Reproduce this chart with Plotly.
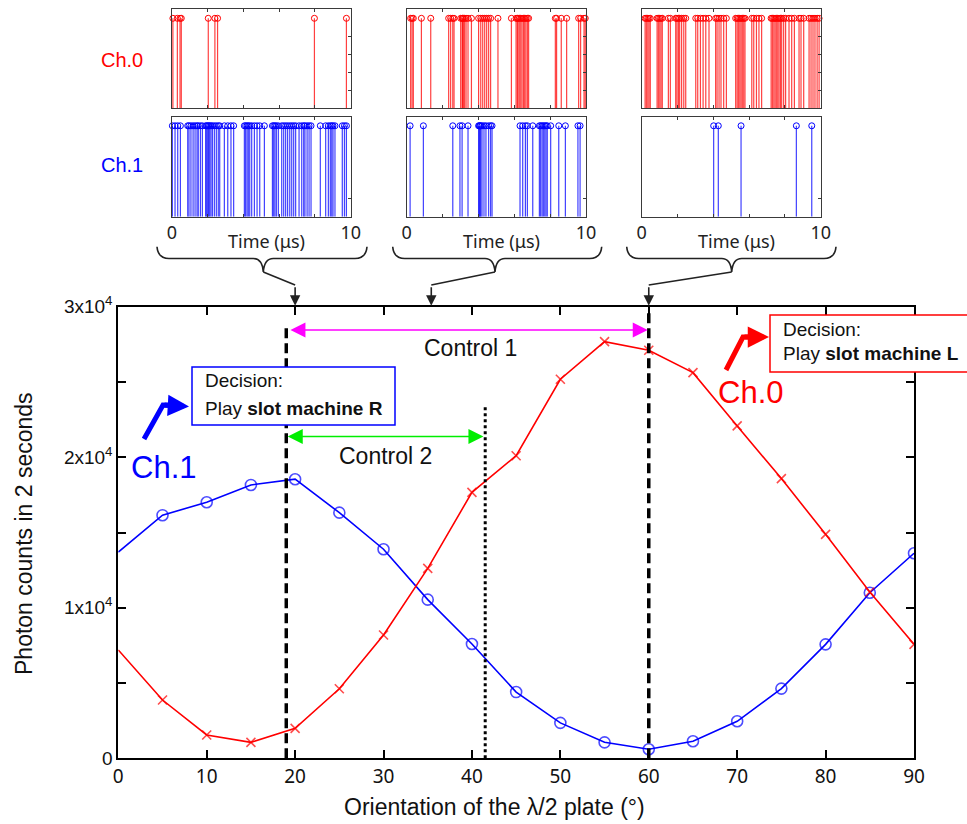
import plotly.graph_objects as go

W, H = 967, 824

# ---------------- data ----------------
angles = [0, 5, 10, 15, 20, 25, 30, 35, 40, 45, 50, 55, 60, 65, 70, 75, 80, 85, 90]
ch1_counts = [13700, 16150, 17010, 18160, 18540, 16320, 13890, 10540, 7590, 4400,
              2350, 1060, 600, 1130, 2460, 4630, 7570, 11000, 13620]
ch0_counts = [7200, 3870, 1550, 1060, 1990, 4620, 8190, 12620, 17670, 20100,
              25180, 27680, 27110, 25620, 22080, 18580, 14880, 11050, 7570]

x_tick_vals = [0, 10, 20, 30, 40, 50, 60, 70, 80, 90]
x_tick_text = ["0", "10", "20", "30", "40", "50", "60", "70", "80", "90"]
y_tick_vals = [0, 5000, 10000, 15000, 20000, 25000, 30000]
y_tick_text = ["0", "", "1x10<sup>4</sup>", "", "2x10<sup>4</sup>", "", "3x10<sup>4</sup>"]

decision_R_angle = 19
decision_L_angle = 60
control2_angle = 41.5
inset_angles = [20, 35.4, 60]

# photon arrival times (microseconds) in each 10-us window
p1_ch0 = [0.05, 0.30, 0.45, 0.52, 2.03, 2.40, 2.55, 7.97, 9.76]
p1_ch1 = [0.02, 0.17, 0.32, 0.47, 0.88, 0.95, 1.06, 1.18, 1.29, 1.40, 1.47, 1.59, 1.70,
          1.88, 1.94, 2.00, 2.05, 2.11, 2.18, 2.26, 2.37, 2.48, 2.59, 2.67, 2.93, 3.12,
          3.30, 3.45, 4.05, 4.12, 4.20, 4.27, 4.35, 4.46, 4.61, 4.76, 4.91, 5.17, 5.62,
          5.69, 5.76, 5.84, 5.95, 6.14, 6.25, 6.36, 6.47, 6.59, 6.70, 6.81, 6.92, 7.11,
          7.26, 7.37, 7.44, 7.56, 7.67, 7.78, 8.30, 8.60, 8.75, 8.86, 8.94, 9.01, 9.12,
          9.53, 9.65, 9.76]
p2_ch0 = [0.22, 0.30, 0.37, 0.82, 1.34, 2.34, 2.45, 2.57, 2.64, 3.01, 3.09, 3.12, 3.16,
          3.23, 3.31, 3.42, 3.61, 4.01, 4.13, 4.24, 4.35, 4.46, 4.57, 4.68, 5.09, 5.84,
          6.10, 6.17, 6.21, 6.28, 6.36, 6.43, 6.51, 6.58, 6.65, 6.73, 6.80, 8.29, 8.36,
          8.62, 8.92, 9.59, 9.70, 9.89, 9.96]
p2_ch1 = [0.19, 0.93, 2.57, 2.97, 3.09, 3.42, 4.01, 4.05, 4.09, 4.13, 4.20, 4.31, 4.42,
          4.57, 4.68, 4.76, 6.32, 6.47, 6.62, 6.73, 7.03, 7.40, 7.47, 7.55, 7.62, 7.70,
          7.77, 7.84, 8.03, 8.48, 8.85, 9.55, 9.67]
p3_ch0 = [0.19, 0.26, 0.34, 0.41, 0.48, 0.86, 0.93, 1.01, 1.08, 1.15, 1.49, 1.60, 1.90,
          1.97, 2.05, 2.12, 2.23, 2.35, 2.46, 3.02, 3.13, 3.28, 3.43, 3.58, 3.76, 4.13,
          4.21, 4.32, 4.43, 4.58, 4.73, 5.25, 5.33, 5.40, 5.48, 5.55, 5.62, 5.70, 5.77,
          6.15, 6.26, 6.41, 6.55, 6.70, 7.23, 7.30, 7.38, 7.45, 7.52, 7.60, 7.67, 7.75,
          7.82, 7.93, 8.04, 8.23, 8.38, 8.53, 8.79, 8.90, 9.05, 9.35, 9.46, 9.57, 9.68,
          9.80, 9.91]
p3_ch1 = [4.02, 4.28, 5.55, 8.64, 9.50]

inset_time_ticks = [0, 2, 4, 6, 8, 10]
inset_time_text = ["0", "", "", "", "", "10"]

RED = "#ff0000"
BLUE = "#0000ff"
ARIAL = "Liberation Sans, Arial, sans-serif"
NOTO = "Noto Sans, sans-serif"


def px(x):
    return x / W


def py(y):
    return 1 - y / H


fig = go.Figure()

# ---------------- main plot ----------------
marker_sizes = [0] + [11] * (len(angles) - 1)
fig.add_trace(go.Scatter(x=angles, y=ch1_counts, mode="lines+markers",
                         line=dict(color=BLUE, width=1.6),
                         marker=dict(symbol="circle-open", size=marker_sizes,
                                     color=BLUE, line=dict(width=1.6)),
                         xaxis="x", yaxis="y", showlegend=False))
fig.add_trace(go.Scatter(x=angles, y=ch0_counts, mode="lines+markers",
                         line=dict(color=RED, width=1.6),
                         marker=dict(symbol="x-thin", size=[0] + [9] * (len(angles) - 1),
                                     color=RED, line=dict(width=1.6, color=RED)),
                         xaxis="x", yaxis="y", showlegend=False))

# ---------------- inset stem plots ----------------
panels = [(p1_ch0, p1_ch1), (p2_ch0, p2_ch1), (p3_ch0, p3_ch1)]
inset_x_px = [(172, 350.7), (406.7, 586), (641.7, 820.7)]
top_y_px = (9.3, 108.3)
bot_y_px = (116.7, 216.7)


def stems(times):
    xs, ys = [], []
    for t in times:
        xs += [t, t, None]
        ys += [0, 1, None]
    return xs, ys


layout_axes = {}
for i, (c0, c1) in enumerate(panels):
    top_n = 2 + 2 * i
    bot_n = 3 + 2 * i
    for n, times, col, rgba, ypx, yticks in [
        (top_n, c0, RED, "rgba(255,0,0,0.75)", top_y_px, [0.2, 0.4, 0.6, 0.8]),
        (bot_n, c1, BLUE, "rgba(0,0,255,0.75)", bot_y_px, [0.2]),
    ]:
        xs, ys = stems(times)
        fig.add_trace(go.Scatter(x=xs, y=ys, mode="lines",
                                 line=dict(color=rgba, width=1.2),
                                 xaxis=f"x{n}", yaxis=f"y{n}", showlegend=False,
                                 hoverinfo="skip"))
        fig.add_trace(go.Scatter(x=times, y=[1] * len(times), mode="markers",
                                 marker=dict(symbol="circle-open", size=6, color=col,
                                             line=dict(width=1)),
                                 xaxis=f"x{n}", yaxis=f"y{n}", showlegend=False,
                                 cliponaxis=False))
        is_bottom = (n == bot_n)
        layout_axes[f"xaxis{n}"] = dict(
            domain=[px(inset_x_px[i][0]), px(inset_x_px[i][1])], automargin=False,
            anchor=f"y{n}", range=[0, 10], showgrid=False, zeroline=False,
            showline=True, linecolor="#3a3a3a", linewidth=1, mirror="ticks",
            ticks="inside", ticklen=3, tickcolor="#3a3a3a",
            tickvals=inset_time_ticks,
            ticktext=inset_time_text if is_bottom else None,
            showticklabels=is_bottom,
            tickfont=dict(family=NOTO, size=18, color="#222222"))
        layout_axes[f"yaxis{n}"] = dict(
            domain=[py(ypx[1]), py(ypx[0])], anchor=f"x{n}", side="right",
            automargin=False,
            range=[0, 1.1], showgrid=False, zeroline=False, showline=True,
            linecolor="#3a3a3a", linewidth=1, mirror=True, ticks="inside",
            ticklen=3, tickcolor="#3a3a3a", tickvals=yticks, showticklabels=False)

fig.update_layout(**layout_axes)

fig.update_layout(
    width=W, height=H,
    margin=dict(l=0, r=0, t=0, b=0, autoexpand=False),
    paper_bgcolor="white", plot_bgcolor="white",
    showlegend=False,
    xaxis=dict(domain=[px(118.3), px(914)], anchor="y", range=[0, 90], automargin=False,
               showgrid=False, zeroline=False, showline=True, linecolor="black",
               linewidth=2, mirror="ticks", ticks="inside", ticklen=8, tickwidth=1.5,
               tickcolor="black", tickvals=x_tick_vals, ticktext=x_tick_text,
               tickfont=dict(family=NOTO, size=19, color="#111111")),
    yaxis=dict(domain=[py(758.3), py(306.7)], anchor="x", range=[0, 30000],
               automargin=False,
               showgrid=False, zeroline=False, showline=True, linecolor="black",
               linewidth=2, mirror="ticks", ticks="inside", ticklen=8, tickwidth=1.5,
               tickcolor="black", tickvals=y_tick_vals, ticktext=y_tick_text,
               tickfont=dict(family=ARIAL, size=19, color="#111111")),
)

shapes = []
annotations = []


def label(x, y, text, size, color="#111111", family=ARIAL, xanchor="center", **kw):
    annotations.append(dict(x=px(x), y=py(y), xref="paper", yref="paper", text=text,
                            showarrow=False, xanchor=xanchor, yanchor="middle",
                            font=dict(family=family, size=size, color=color), **kw))


# decision lines
shapes.append(dict(type="line", xref="x", yref="y", x0=decision_R_angle, x1=decision_R_angle,
                   y0=0, y1=28900, line=dict(color="black", width=3.5, dash="10px,5px")))
shapes.append(dict(type="line", xref="x", yref="y", x0=decision_L_angle, x1=decision_L_angle,
                   y0=0, y1=29800, line=dict(color="black", width=3.5, dash="10px,5px")))
shapes.append(dict(type="line", xref="x", yref="y", x0=control2_angle, x1=control2_angle,
                   y0=0, y1=23350, line=dict(color="black", width=3, dash="dot")))

# control arrows
annotations.append(dict(x=decision_L_angle, y=28460, ax=decision_R_angle + 0.3, ay=28460,
                        xref="x", yref="y", axref="x", ayref="y", text="", showarrow=True,
                        arrowside="end+start", arrowhead=2, startarrowhead=2,
                        arrowsize=2.0, startarrowsize=2.0, arrowwidth=1.5,
                        arrowcolor="#ff00ff", standoff=1, startstandoff=0))
annotations.append(dict(x=control2_angle - 0.2, y=21370, ax=decision_R_angle, ay=21370,
                        xref="x", yref="y", axref="x", ayref="y", text="", showarrow=True,
                        arrowside="end+start", arrowhead=2, startarrowhead=2,
                        arrowsize=2.0, startarrowsize=2.0, arrowwidth=1.5,
                        arrowcolor="#00ee00", standoff=0, startstandoff=0))
annotations.append(dict(x=39.8, y=27250, xref="x", yref="y", text="Control 1",
                        xanchor="center", yanchor="middle",
                        showarrow=False, font=dict(family=ARIAL, size=23, color="#111111")))
annotations.append(dict(x=30.2, y=20050, xref="x", yref="y", text="Control 2",
                        xanchor="center", yanchor="middle",
                        showarrow=False, font=dict(family=ARIAL, size=23, color="#111111")))

# decision boxes
shapes.append(dict(type="rect", xref="paper", yref="paper", x0=px(192), x1=px(395),
                   y0=py(425), y1=py(367), line=dict(color=BLUE, width=1.5),
                   fillcolor="white", layer="above"))
shapes.append(dict(type="rect", xref="paper", yref="paper", x0=px(770), x1=px(1000),
                   y0=py(372), y1=py(315), line=dict(color=RED, width=1.5),
                   fillcolor="white", layer="above"))
label(203, 381, "Decision:", 19, xanchor="left")
label(203, 408, "Play <b>slot machine R</b>", 19, xanchor="left")
label(781, 329, "Decision:", 19, xanchor="left")
label(781, 354, "Play <b>slot machine L</b>", 19, xanchor="left")

# channel labels + bent arrows
label(163, 467, "Ch.1", 31, color=BLUE)
label(750, 392, "Ch.0", 31, color=RED)
shapes.append(dict(type="path", xref="paper", yref="paper",
                   path=f"M {px(144)},{py(439)} L {px(163)},{py(405)} L {px(170)},{py(405.3)}",
                   line=dict(color=BLUE, width=5)))
annotations.append(dict(x=px(189), y=py(406.5), xref="paper", yref="paper", ax=-26, ay=-1.5,
                        text="", showarrow=True, arrowhead=2, arrowsize=0.85, arrowwidth=5,
                        arrowcolor=BLUE))
shapes.append(dict(type="path", xref="paper", yref="paper",
                   path=f"M {px(726)},{py(370)} L {px(743)},{py(337)} L {px(750)},{py(337)}",
                   line=dict(color=RED, width=5)))
annotations.append(dict(x=px(769), y=py(337), xref="paper", yref="paper", ax=-26, ay=0,
                        text="", showarrow=True, arrowhead=2, arrowsize=0.85, arrowwidth=5,
                        arrowcolor=RED))

# inset labels
label(122, 60, "Ch.0", 20, color=RED)
label(122, 165, "Ch.1", 20, color=BLUE)

# braces, connectors and arrows to the main axis
brace_px = [(157, 367, 263.3), (392.7, 601.7, 495), (626.7, 836, 731.7)]
x_dom = (118.3, 914)
for i, (bx0, bx1, tip) in enumerate(brace_px):
    ytop, ymid, ytip = 246.7, 258.5, 272
    path = (f"M {px(bx0)},{py(ytop)} Q {px(bx0 + 1)},{py(ymid)} {px(bx0 + 12)},{py(ymid)} "
            f"L {px(tip - 10)},{py(ymid)} Q {px(tip - 1)},{py(ymid)} {px(tip)},{py(ytip)} "
            f"Q {px(tip + 1)},{py(ymid)} {px(tip + 10)},{py(ymid)} "
            f"L {px(bx1 - 12)},{py(ymid)} Q {px(bx1 - 1)},{py(ymid)} {px(bx1)},{py(ytop)}")
    shapes.append(dict(type="path", xref="paper", yref="paper", path=path,
                       line=dict(color="#222222", width=1.6)))
    a_px = x_dom[0] + inset_angles[i] / 90 * (x_dom[1] - x_dom[0])
    shapes.append(dict(type="line", xref="paper", yref="paper", x0=px(tip), y0=py(ytip),
                       x1=px(a_px), y1=py(285), line=dict(color="#222222", width=1.6)))
    annotations.append(dict(x=inset_angles[i], y=30000, xref="x", yref="y", ax=0, ay=-21,
                            text="", showarrow=True, arrowhead=2, arrowsize=1.3,
                            arrowwidth=1.6, arrowcolor="#222222", standoff=1))
    cx = (inset_x_px[i][0] + inset_x_px[i][1]) / 2 + 5
    label(cx, 241, "Time (\u03bcs)", 18, color="#222222", family=NOTO)

# axis titles
label(24, 534, "Photon counts in 2 seconds", 23, textangle=-90)
label(494, 807, "Orientation of the \u03bb/2 plate (\u00b0)", 23)

fig.update_layout(shapes=shapes, annotations=annotations)

fig.write_html("out.html", config={"displayModeBar": False},
               post_script="document.body.style.margin='0';document.body.style.padding='0';")
